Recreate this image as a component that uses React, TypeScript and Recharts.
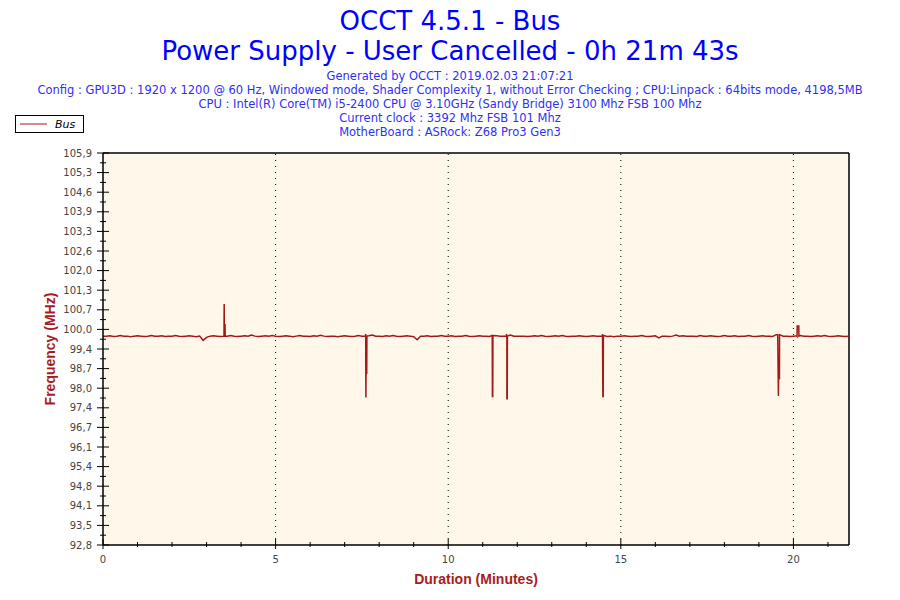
import React from 'react';
import { LineChart, Line, XAxis, YAxis, ReferenceLine, CartesianGrid } from 'recharts';

// ---- data ----
const axisEndMinutes = 21.61; // right edge of the plot
const sampleStep = 0.1; // minutes between baseline samples

// Bus frequency (MHz), one value every 0.1 minute, rows = one minute
const baselineValues: number[] = [
  99.78, 99.78, 99.79, 99.77, 99.78, 99.80, 99.78, 99.78, 99.76, 99.78,
  99.79, 99.78, 99.77, 99.78, 99.80, 99.78, 99.78, 99.79, 99.77, 99.78,
  99.78, 99.80, 99.78, 99.77, 99.78, 99.79, 99.78, 99.76, 99.78, 99.64,
  99.74, 99.78, 99.79, 99.78, 99.77, 99.78, 99.78, 99.80, 99.78, 99.77,
  99.78, 99.79, 99.78, 99.82, 99.78, 99.77, 99.78, 99.79, 99.78, 99.80,
  99.78, 99.77, 99.78, 99.79, 99.78, 99.76, 99.78, 99.80, 99.78, 99.78,
  99.77, 99.79, 99.78, 99.81, 99.78, 99.77, 99.78, 99.78, 99.76, 99.78,
  99.79, 99.78, 99.77, 99.78, 99.80, 99.78, 99.78, 99.79, 99.82, 99.78,
  99.78, 99.77, 99.79, 99.78, 99.80, 99.78, 99.77, 99.78, 99.79, 99.78,
  99.76, 99.66, 99.78, 99.78, 99.79, 99.77, 99.78, 99.78, 99.80, 99.78,
  99.78, 99.79, 99.77, 99.78, 99.78, 99.80, 99.78, 99.77, 99.78, 99.79,
  99.78, 99.78, 99.77, 99.80, 99.79, 99.78, 99.78, 99.76, 99.82, 99.78,
  99.78, 99.78, 99.78, 99.77, 99.78, 99.79, 99.78, 99.80, 99.78, 99.77,
  99.78, 99.79, 99.78, 99.80, 99.78, 99.77, 99.78, 99.78, 99.79, 99.78,
  99.77, 99.78, 99.79, 99.78, 99.78, 99.80, 99.77, 99.78, 99.76, 99.78,
  99.78, 99.79, 99.78, 99.77, 99.78, 99.78, 99.80, 99.78, 99.77, 99.78,
  99.79, 99.72, 99.78, 99.78, 99.77, 99.78, 99.82, 99.78, 99.79, 99.78,
  99.78, 99.78, 99.77, 99.80, 99.78, 99.78, 99.79, 99.78, 99.77, 99.78,
  99.80, 99.78, 99.78, 99.79, 99.77, 99.78, 99.78, 99.80, 99.78, 99.77,
  99.78, 99.79, 99.78, 99.78, 99.77, 99.83, 99.83, 99.78, 99.78, 99.77,
  99.78, 99.79, 99.80, 99.78, 99.78, 99.77, 99.78, 99.79, 99.78, 99.80,
  99.78, 99.77, 99.78, 99.79, 99.78, 99.77, 99.78,
];

// short spikes (time in minutes, value in MHz)
const spikeTimes: number[] = [
  3.505, 3.51, 3.515, 3.535, 3.54,
  7.605, 7.61, 7.615, 7.62, 7.64, 7.645,
  11.27, 11.275, 11.28, 11.29, 11.295,
  11.685, 11.69, 11.70, 11.71, 11.715,
  14.465, 14.47, 14.48, 14.49, 14.495,
  19.545, 19.565, 19.57, 19.595, 19.598,
  20.105, 20.11, 20.155, 20.16,
];
const spikeValues: number[] = [
  99.78, 100.85, 100.16, 100.16, 99.78,
  99.78, 99.85, 97.73, 98.54, 98.54, 99.78,
  99.8, 99.82, 97.76, 97.76, 99.78,
  99.78, 99.85, 97.69, 97.69, 99.78,
  99.78, 99.85, 97.76, 97.76, 99.78,
  99.83, 97.78, 98.36, 98.36, 99.83,
  99.78, 100.12, 100.12, 99.78,
];

const xTickValues = [0, 1, 2, 3, 4, 5, 6, 7, 8, 9, 10, 11, 12, 13, 14, 15, 16, 17, 18, 19, 20, 21];
const xLabeledTicks = [0, 5, 10, 15, 20];
const gridMinutes = [5, 10, 15, 20];

const yMin = 92.8;
const yMax = 105.9;
const yMajorTicks = [
  92.8, 93.455, 94.11, 94.765, 95.42, 96.075, 96.73, 97.385, 98.04, 98.695, 99.35,
  100.005, 100.66, 101.315, 101.97, 102.625, 103.28, 103.935, 104.59, 105.245, 105.9,
];
const yTickLabels = [
  '92,8', '93,5', '94,1', '94,8', '95,4', '96,1', '96,7', '97,4', '98,0', '98,7', '99,4',
  '100,0', '100,7', '101,3', '102,0', '102,6', '103,3', '103,9', '104,6', '105,3', '105,9',
];
const yMinorTicks = [
  93.1275, 93.7825, 94.4375, 95.0925, 95.7475, 96.4025, 97.0575, 97.7125, 98.3675, 99.0225,
  99.6775, 100.3325, 100.9875, 101.6425, 102.2975, 102.9525, 103.6075, 104.2625, 104.9175, 105.5725,
];

const titleLines = ['OCCT 4.5.1 - Bus', 'Power Supply - User Cancelled - 0h 21m 43s'];
const infoLines = [
  'Generated by OCCT : 2019.02.03 21:07:21',
  'Config : GPU3D : 1920 x 1200 @ 60 Hz, Windowed mode, Shader Complexity 1, without Error Checking ; CPU:Linpack : 64bits mode, 4198,5MB',
  'CPU : Intel(R) Core(TM) i5-2400 CPU @ 3.10GHz (Sandy Bridge) 3100 Mhz FSB 100 Mhz',
  'Current clock : 3392 Mhz FSB 101 Mhz',
  'MotherBoard : ASRock: Z68 Pro3 Gen3',
];
const seriesName = 'Bus';
const xAxisTitle = 'Duration (Minutes)';
const yAxisTitle = 'Frequency (MHz)';

// ---- build the table for Recharts ----
const data = [
  ...baselineValues.map((v, i) => ({ t: Number((i * sampleStep).toFixed(3)), v })),
  ...spikeTimes.map((t, i) => ({ t, v: spikeValues[i] })),
].sort((a, b) => a.t - b.t);

const yAllTicks = [...yMajorTicks, ...yMinorTicks].sort((a, b) => a - b);

const LINE_COLOR = '#A31818';
const TITLE_COLOR = '#0000FF';
const INFO_COLOR = '#2F2FF5';
const AXIS_TITLE_COLOR = '#A81C1C';
const TICK_FONT = '"DejaVu Sans", Verdana, sans-serif';

const YTick = (props: any) => {
  const { x, y, payload } = props;
  const idx = yMajorTicks.findIndex((v) => Math.abs(v - payload.value) < 1e-6);
  if (idx < 0) {
    return <line x1={x - 3} x2={x + 3} y1={y} y2={y} stroke="#000" />;
  }
  return (
    <g>
      <line x1={x - 6} x2={x + 6} y1={y} y2={y} stroke="#000" />
      <text x={x - 11} y={y} dy={3.5} textAnchor="end" fontSize={10} fontFamily={TICK_FONT} fill="#444">
        {yTickLabels[idx]}
      </text>
    </g>
  );
};

const XTick = (props: any) => {
  const { x, y, payload } = props;
  const major = xLabeledTicks.includes(payload.value);
  if (!major) {
    return <line x1={x} x2={x} y1={y - 3} y2={y + 2} stroke="#000" />;
  }
  return (
    <g>
      <line x1={x} x2={x} y1={y - 6} y2={y + 4} stroke="#000" />
      <text x={x} y={y + 18} textAnchor="middle" fontSize={10} fontFamily={TICK_FONT} fill="#444">
        {String(payload.value)}
      </text>
    </g>
  );
};

export default function App() {
  return (
    <div style={{ position: 'absolute', left: 0, top: 0, width: 900, height: 600, background: '#fff' }}>
      <LineChart
        width={900}
        height={600}
        data={data}
        margin={{ top: 153, right: 51, bottom: 25, left: 43 }}
      >
        <CartesianGrid horizontal={false} vertical={false} fill="#FFF8EA" />
        <XAxis
          dataKey="t"
          type="number"
          domain={[0, axisEndMinutes]}
          ticks={xTickValues}
          interval={0}
          allowDataOverflow
          height={30}
          tickSize={0}
          tickMargin={0}
          tickLine={false}
          axisLine={{ stroke: '#000', strokeWidth: 1.5 }}
          tick={<XTick />}
        />
        <YAxis
          type="number"
          domain={[yMin, yMax]}
          ticks={yAllTicks}
          interval={0}
          allowDataOverflow
          width={60}
          tickSize={0}
          tickMargin={0}
          tickLine={false}
          axisLine={{ stroke: '#000', strokeWidth: 1.5 }}
          tick={<YTick />}
        />
        {gridMinutes.map((m) => (
          <ReferenceLine key={m} x={m} stroke="#000" strokeDasharray="1 5" />
        ))}
        <ReferenceLine y={yMax} stroke="#000" strokeWidth={1.5} />
        <ReferenceLine x={axisEndMinutes} stroke="#000" strokeWidth={1.5} />
        <Line
          type="linear"
          dataKey="v"
          name={seriesName}
          stroke={LINE_COLOR}
          strokeWidth={1.5}
          dot={false}
          activeDot={false}
          isAnimationActive={false}
        />
      </LineChart>
      <svg
        width={900}
        height={600}
        style={{ position: 'absolute', left: 0, top: 0, pointerEvents: 'none' }}
      >
        <text x={450} y={30} textAnchor="middle" fontSize={26} fontFamily='"DejaVu Sans", Verdana, sans-serif' fill={TITLE_COLOR}>
          {titleLines[0]}
        </text>
        <text x={450} y={60} textAnchor="middle" fontSize={26} fontFamily='"DejaVu Sans", Verdana, sans-serif' fill={TITLE_COLOR}>
          {titleLines[1]}
        </text>
        {infoLines.map((s, i) => (
          <text key={i} x={450} y={80 + i * 14} textAnchor="middle" fontSize={11.5} fontFamily='"DejaVu Sans", Verdana, sans-serif' fill={INFO_COLOR}>
            {s}
          </text>
        ))}
        <rect x={15.5} y={115.5} width={68} height={17} fill="#fff" stroke="#000" />
        <line x1={20} x2={47} y1={124} y2={124} stroke={LINE_COLOR} strokeWidth={1} />
        <text x={55} y={128} fontSize={11} fontStyle="italic" fontFamily='"DejaVu Sans", Verdana, sans-serif' fill="#000">
          {seriesName}
        </text>
        <text
          x={476}
          y={584}
          textAnchor="middle"
          fontSize={14}
          fontWeight="bold"
          fontFamily='"Liberation Sans Narrow", "Liberation Sans", Arial, sans-serif'
          fill={AXIS_TITLE_COLOR}
        >
          {xAxisTitle}
        </text>
        <text
          x={0}
          y={0}
          transform="translate(55, 349) rotate(-90)"
          textAnchor="middle"
          fontSize={14}
          fontWeight="bold"
          fontFamily='"Liberation Sans Narrow", "Liberation Sans", Arial, sans-serif'
          fill={AXIS_TITLE_COLOR}
        >
          {yAxisTitle}
        </text>
      </svg>
    </div>
  );
}
